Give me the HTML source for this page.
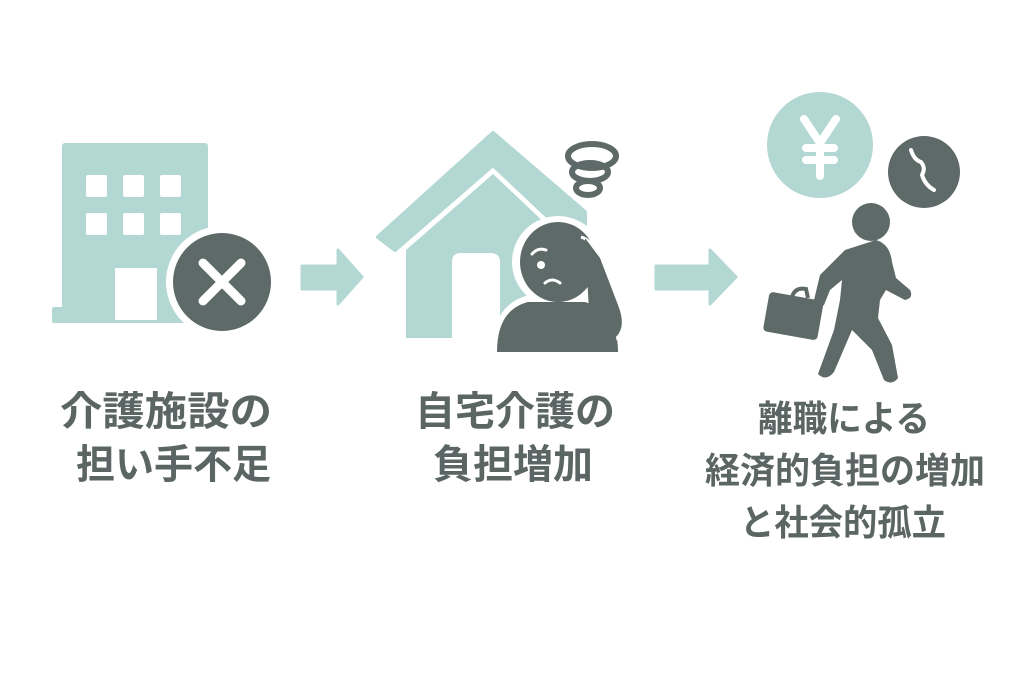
<!DOCTYPE html>
<html><head><meta charset="utf-8"><style>
html,body{margin:0;padding:0;background:#fff;}
svg{display:block}
text{font-family:"Liberation Sans","Noto Sans CJK JP",sans-serif;font-weight:bold;fill:#5b6664;}
</style></head><body>
<svg width="1024" height="683" viewBox="0 0 1024 683" xmlns="http://www.w3.org/2000/svg">
<rect width="1024" height="683" fill="#fff"/>
<g fill="#b3d8d3">
<rect x="62" y="143" width="146" height="180" rx="3"/>
<rect x="52" y="307" width="40" height="16" rx="2"/>
</g>
<g fill="#fff">
<rect x="86" y="175" width="21" height="22" rx="2"/><rect x="123" y="175" width="21" height="22" rx="2"/><rect x="160" y="175" width="21" height="22" rx="2"/>
<rect x="86" y="213" width="21" height="22" rx="2"/><rect x="123" y="213" width="21" height="22" rx="2"/><rect x="160" y="213" width="21" height="22" rx="2"/>
<rect x="115" y="268" width="42" height="52"/>
</g>
<circle cx="222" cy="282" r="56" fill="#fff"/>
<circle cx="222" cy="282" r="49" fill="#5d6a68"/>
<path d="M203 263 L241 301 M241 263 L203 301" stroke="#fff" stroke-width="9" stroke-linecap="round"/>
<path d="M302 266 H338 V250 L362 277 L338 304 V289 H302 Z" fill="#b3d8d3" stroke="#b3d8d3" stroke-width="3" stroke-linejoin="round"/>
<path d="M378 237 L493 133 L585 212 L585 225 L560 228 L493 165 L395 250 Z" fill="#b3d8d3" stroke="#b3d8d3" stroke-width="4" stroke-linejoin="round"/>
<path d="M406 250 L493 174 L548 226 L548 338 L406 338 Z" fill="#b3d8d3"/>
<path d="M452 338 V262 Q452 253 461 253 H490 Q500 253 500 262 V338 Z" fill="#fff"/>
<circle cx="558" cy="262" r="46" fill="#fff"/>
<path d="M497 352 Q497 308 530 300 L585 300 Q618 310 618 352 Z" fill="#fff" stroke="#fff" stroke-width="10"/>
<path d="M497 352 Q497 310 528 302 L585 302 Q618 312 618 352 Z" fill="#5d6a68"/>
<ellipse cx="558" cy="262" rx="38" ry="40" fill="#5d6a68"/>
<path d="M581 237 Q592 240 596 255 L605 290 L614 315 L618 340" stroke="#fff" stroke-width="3" fill="none"/>
<path d="M585 238 L600 258 L618 305 Q628 330 612 340 L590 330 Z" fill="#5d6a68"/>
<path d="M532 254 Q538 247 546 250" stroke="#fff" stroke-width="3" fill="none" stroke-linecap="round"/>
<circle cx="541" cy="265" r="4" fill="#fff"/>
<path d="M545 283 Q552 277 560 283" stroke="#fff" stroke-width="3" fill="none" stroke-linecap="round"/>
<g fill="none" stroke="#5d6a68" stroke-width="6">
<ellipse cx="592" cy="156" rx="24" ry="12"/>
<ellipse cx="590" cy="172" rx="18" ry="9"/>
<ellipse cx="588" cy="188" rx="12" ry="7"/>
</g>
<path d="M656 266 H710 V250 L736 277 L710 304 V289 H656 Z" fill="#b3d8d3" stroke="#b3d8d3" stroke-width="3" stroke-linejoin="round"/>
<circle cx="820" cy="145" r="53" fill="#b3d8d3"/>
<path d="M804 119 L820 143 L836 119 M820 143 V176 M806 148 H834 M806 160 H834" stroke="#fff" stroke-width="8" fill="none" stroke-linecap="round"/>
<circle cx="924" cy="172" r="36" fill="#5d6a68"/>
<path d="M911 150 Q914 160 921 162 Q926 168 922 175 Q925 185 934 190" stroke="#fff" stroke-width="4" fill="none" stroke-linecap="round"/>
<g fill="#5d6a68">
<circle cx="871" cy="222" r="19"/>
<path d="M845 250 L876 240 Q890 244 892 262 L896 278 L910 290 Q914 298 905 300 L886 290 L880 300 L878 318 L892 345 L898 378 Q892 386 884 380 L872 350 L852 330 L834 372 Q826 382 818 374 L834 330 L840 300 L842 280 L830 290 L824 305 Q816 310 814 300 L820 275 Z"/>
<rect x="766" y="296" width="55" height="40" rx="4" transform="rotate(10 793 315)"/>
<path d="M792 297 Q795 287 806 289 L808 298" stroke="#5d6a68" stroke-width="4" fill="none"/>
</g>
<text x="60" y="425" font-size="40" textLength="212" lengthAdjust="spacingAndGlyphs">介護施設の</text>
<text x="76" y="478" font-size="40" textLength="195" lengthAdjust="spacingAndGlyphs">担い手不足</text>
<text x="415" y="425" font-size="40" textLength="200" lengthAdjust="spacingAndGlyphs">自宅介護の</text>
<text x="433" y="478" font-size="40" textLength="160" lengthAdjust="spacingAndGlyphs">負担増加</text>
<text x="758" y="431" font-size="36" textLength="172" lengthAdjust="spacingAndGlyphs">離職による</text>
<text x="705" y="483" font-size="36" textLength="280" lengthAdjust="spacingAndGlyphs">経済的負担の増加</text>
<text x="740" y="535" font-size="36" textLength="206" lengthAdjust="spacingAndGlyphs">と社会的孤立</text>
</svg>
</body></html>
